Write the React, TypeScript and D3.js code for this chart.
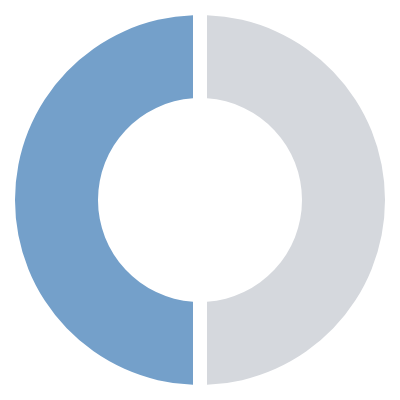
import React from 'react';
import * as d3 from 'd3';

const categories: string[] = ['Remaining', 'Completed'];
const values: number[] = [50, 50];
const colors: string[] = ['#d5d8dd', '#74a0ca'];

interface Slice {
  name: string
  value: number
  color: string
}

const App: React.FC = () => {
  const width = 400;
  const height = 400;
  const outerRadius = 185;
  const innerRadius = 102;

  const data: Slice[] = categories.map((name, i) => ({name, value: values[i], color: colors[i]}));

  const pie = d3.pie<Slice>()
    .sort(null)
    .value((d) => d.value)
    .padAngle(14 / Math.sqrt(outerRadius * outerRadius + innerRadius * innerRadius));

  const arc = d3.arc<d3.PieArcDatum<Slice>>()
    .innerRadius(innerRadius)
    .outerRadius(outerRadius);

  const arcs = pie(data);

  return <svg width={width} height={height}
              style={{position: 'fixed', left: 0, top: 0, background: '#fff'}}>
    <g transform={`translate(${width / 2},${height / 2})`}>
      {arcs.map((d) => (
        <path key={d.data.name} d={arc(d) ?? ''} fill={d.data.color}>
          <title>{`${d.data.name}: ${d.data.value}`}</title>
        </path>
      ))}
    </g>
  </svg>;
};

export default App;
